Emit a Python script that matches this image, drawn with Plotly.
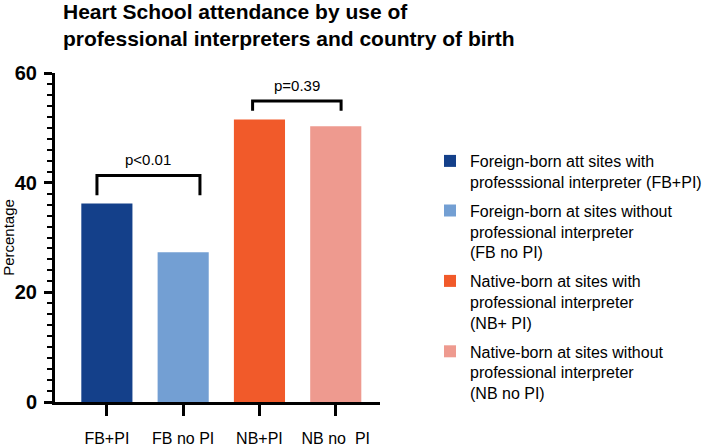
import plotly.graph_objects as go

categories = ["FB+PI", "FB no PI", "NB+PI", "NB no  PI"]
values = [36.2, 27.3, 51.5, 50.3]
legend_names = [
    "Foreign-born att sites with<br>professsional interpreter (FB+PI)",
    "Foreign-born at sites without<br>professional interpreter<br>(FB no PI)",
    "Native-born at sites with<br>professional interpreter<br>(NB+ PI)",
    "Native-born at sites without<br>professional interpreter<br>(NB no PI)",
]
colors = ["#14408A", "#739FD3", "#F15A2A", "#EE9A8F"]

# significance brackets: (x_left, x_right, y_top, y_leg, text, text_y)
brackets = [
    (-0.13, 1.22, 41.3, 37.7, "p<0.01", 44.3),
    (1.91, 3.07, 54.9, 53.1, "p=0.39", 57.8),
]

FONT = "Liberation Sans, Arial, sans-serif"

fig = go.Figure()
for cat, val, name, col in zip(categories, values, legend_names, colors):
    fig.add_trace(go.Bar(
        x=[cat], y=[val], name=name, marker_color=col, width=0.67,
        marker_line_width=0, legendgroup=name,
    ))

shapes = []
annotations = []
for xl, xr, yt, yl, txt, ty in brackets:
    shapes.append(dict(
        type="path", xref="x", yref="y",
        path=f"M {xl},{yl} L {xl},{yt} L {xr},{yt} L {xr},{yl}",
        line=dict(color="black", width=3),
    ))
    annotations.append(dict(
        x=(xl + xr) / 2, y=ty, xref="x", yref="y", text=txt,
        showarrow=False, font=dict(size=15, color="black", family=FONT),
    ))

annotations.append(dict(
    text="<b>Heart School attendance by use of<br>professional interpreters and country of birth</b>",
    x=(61 - 55) / 325, xref="paper", xanchor="left",
    y=1 + (73 + 2) / 329, yref="paper", yanchor="top",
    align="left", showarrow=False,
    font=dict(size=21, color="black", family=FONT),
))

fig.update_layout(
    width=703, height=446,
    margin=dict(l=55, r=323, t=73, b=44),
    paper_bgcolor="white", plot_bgcolor="white",
    barmode="overlay",
    font=dict(family=FONT, color="black"),
    shapes=shapes,
    annotations=annotations,
    legend=dict(
        x=430 / 703, xref="container", xanchor="left",
        y=1 - 144 / 446, yref="container", yanchor="top",
        font=dict(size=16, color="black", family=FONT),
        valign="top", tracegroupgap=5, traceorder="grouped",
        bgcolor="rgba(0,0,0,0)", maxheight=420,
    ),
    xaxis=dict(
        type="category", range=[-0.68, 3.58],
        showline=True, linewidth=3, linecolor="black",
        ticks="outside", ticklen=11, tickwidth=3, tickcolor="black",
        tickfont=dict(size=16, color="black", family=FONT),
        ticklabelstandoff=9, automargin=False,
        showgrid=False, zeroline=False,
    ),
    yaxis=dict(
        range=[0, 60], tickvals=[0, 20, 40, 60],
        showline=True, linewidth=3, linecolor="black",
        ticks="outside", ticklen=8, tickwidth=3, tickcolor="black",
        tickfont=dict(size=20, color="black", family=FONT, weight="bold"),
        ticklabelstandoff=3,
        minor=dict(dtick=2, ticks="outside", ticklen=5, tickwidth=2, tickcolor="black", showgrid=False),
        title=dict(text="Percentage", font=dict(size=15, color="black", family=FONT), standoff=13),
        showgrid=False, zeroline=False, automargin=False,
    ),
)

fig.write_html("out.html")
